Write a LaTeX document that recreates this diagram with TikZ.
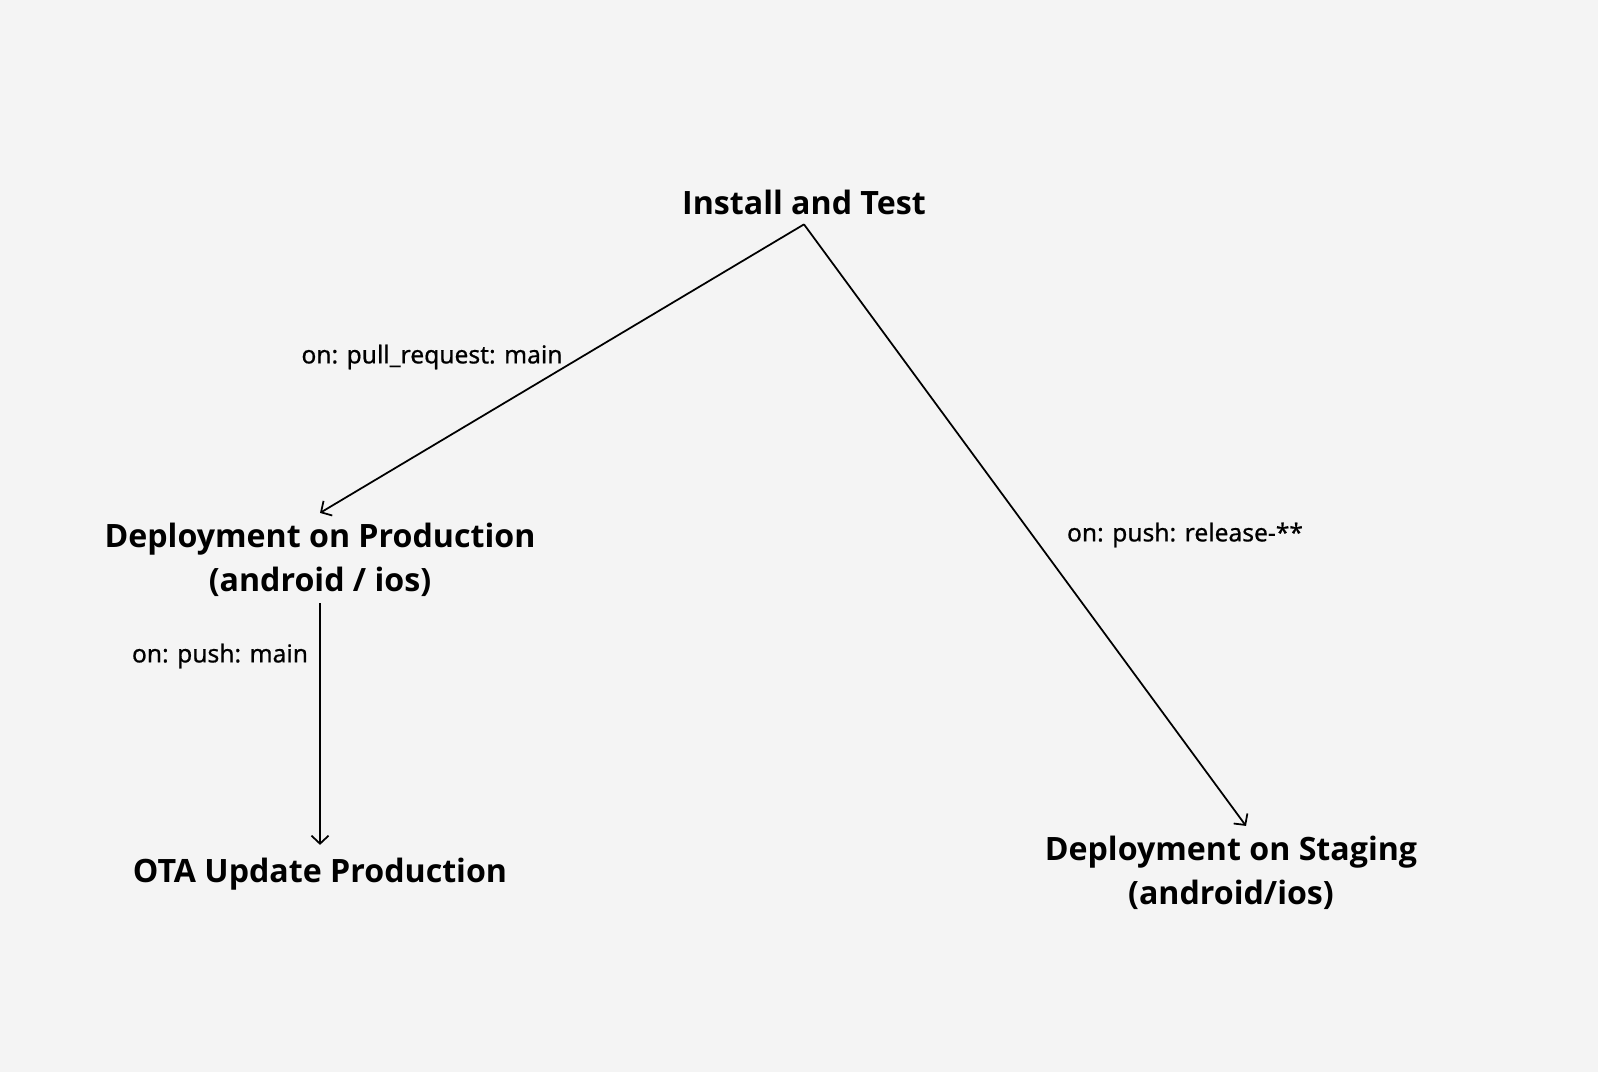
\documentclass[tikz,border=0pt]{standalone}
\usepackage{fontspec}
\setmainfont{Noto Sans}
\newfontfamily\headfont{Open Sans}
\newfontfamily\labelfont{Noto Sans}[FakeBold=0.6]
\usetikzlibrary{arrows.meta}
\definecolor{bgcolor}{HTML}{F4F4F4}

\begin{document}
\begin{tikzpicture}[>={Straight Barb[length=0.08cm,width=0.17cm]}]
        \fill[bgcolor] (0,0) rectangle (15.98,-10.72);
        \useasboundingbox (0,0) rectangle (15.98,-10.72);
        \begin{scope}[every node/.style={font=\headfont\bfseries\fontsize{9.15}{12.7}\selectfont, align=center, inner sep=0pt, outer sep=0.1cm}]
            \node (install) at (8.04,-2.02) {Install and Test};
            \node (prod) at (3.20,-5.60) {Deployment on Production\\(android / ios)};
            \node (ota) at (3.20,-8.74) {OTA Update Production};
            \node (stage) at (12.31,-8.73) {Deployment on Staging\\(android/ios)};
        \end{scope}
        \begin{scope}[every node/.style={font=\labelfont\fontsize{7}{8.4}\selectfont, inner sep=0pt}]
            \node (prlabel) at (4.32,-3.57) {on: pull\_request: main};
            \node (pushlabel) at (2.20,-6.56) {on: push: main};
            \node (releaselabel) at (11.85,-5.35) {on: push: release-**};
        \end{scope}
        \begin{scope}[every edge/.style={draw,line width=0.5pt}]
            \path [->] (install.south) edge (prod.north);
            \path [->] (install.south) edge ([xshift=0.15cm]stage.north);
            \path [->] ([yshift=0.04cm]prod.south) edge ([yshift=0.03cm]ota.north);
        \end{scope}
    \end{tikzpicture}
\end{document}
